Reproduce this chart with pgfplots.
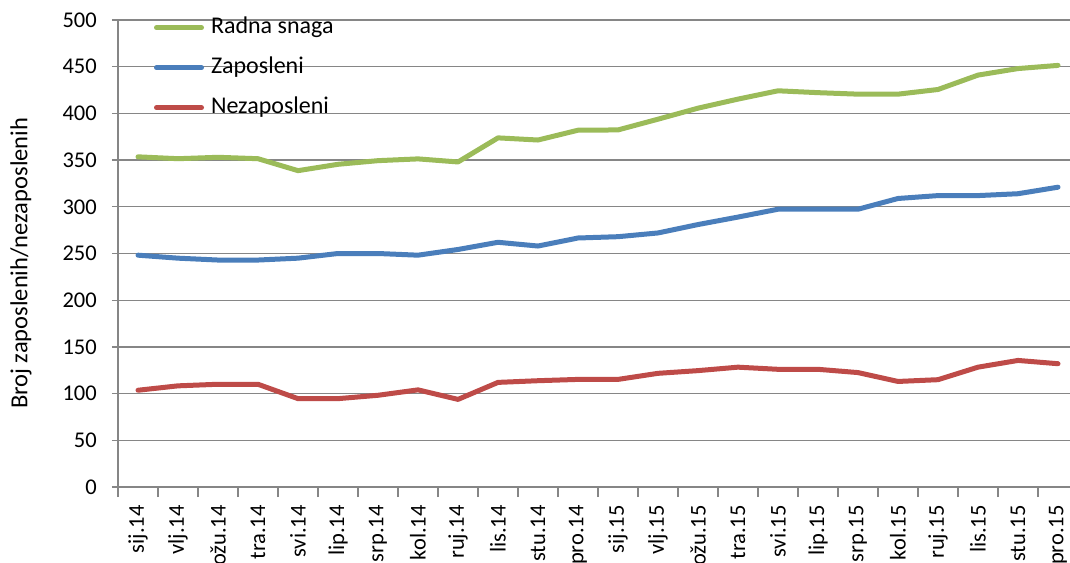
\documentclass[border=0pt]{standalone}
\usepackage{pgfplots}
\pgfplotsset{compat=1.18}
\usepackage{fontspec}
\setmainfont{Carlito}
\definecolor{cgreen}{RGB}{155,187,89}
\definecolor{cblue}{RGB}{74,126,187}
\definecolor{cred}{RGB}{190,75,72}
\definecolor{cgrid}{RGB}{134,134,134}
\begin{document}
\begin{tikzpicture}
\begin{axis}[
  scale only axis,
  width=960pt, height=467pt,
  xmin=-0.5, xmax=23.5,
  ymin=0, ymax=500,
  ytick={0,50,...,500},
  xtick={0,...,23},
  xticklabels={sij.14,vlj.14,ožu.14,tra.14,svi.14,lip.14,srp.14,kol.14,ruj.14,lis.14,stu.14,pro.14,sij.15,vlj.15,ožu.15,tra.15,svi.15,lip.15,srp.15,kol.15,ruj.15,lis.15,stu.15,pro.15},
  minor xtick={-0.5,0.5,...,23.5},
  axis lines*=left,
  axis line style={draw=cgrid, line width=1.3pt},
  ymajorgrids,
  grid style={draw=cgrid, line width=1.3pt},
  tick align=outside,
  major tick length=6pt,
  minor tick length=10pt,
  tick style={draw=cgrid, line width=1.3pt},
  major x tick style={draw=none},
  /pgf/number format/assume math mode=true,
  yticklabel style={font=\fontsize{22.5}{26}\selectfont, inner sep=0pt, xshift=-15pt},
  xticklabel style={font=\fontsize{22.5}{26}\selectfont, inner sep=0pt, yshift=-12pt, rotate=90, anchor=east},
  ylabel={Broj zaposlenih/nezaposlenih},
  ylabel style={font=\fontsize{24.5}{28}\selectfont, at={(axis description cs:-0.101,0.479)}, anchor=center},
  legend style={draw=none, fill=none, inner sep=0pt, outer sep=0pt,
    at={(axis description cs:0.0375,1.008)}, anchor=north west,
    font=\fontsize{24}{28}\selectfont, row sep=17pt,
    nodes={inner sep=0pt, text height=17pt, text depth=6pt},
    /tikz/every odd column/.append style={column sep=7pt}},
  legend cell align=left,
  legend image code/.code={\draw[#1, line width=5pt, line cap=round] (0pt,0pt) -- (45pt,0pt);},
  every axis plot/.append style={line width=5pt, line join=round, line cap=round, mark=none},
]
\addplot[cgreen] coordinates {
(0,353.5) (1,351.5) (2,353) (3,351.5) (4,338.7) (5,345.5) (6,349.4) (7,351.3) (8,348)
(9,373.8) (10,371.5) (11,382) (12,382.3) (13,393.8) (14,405.6) (15,415.3) (16,424.2)
(17,422.2) (18,420.6) (19,420.6) (20,425.6) (21,441) (22,448) (23,451.4)};
\addlegendentry{Radna snaga}
\addplot[cblue] coordinates {
(0,248.2) (1,245) (2,243) (3,243) (4,245) (5,250) (6,250) (7,248.2) (8,254.3)
(9,262) (10,258) (11,266.6) (12,268) (13,272) (14,281) (15,289) (16,297.4)
(17,297.4) (18,297.4) (19,308.9) (20,312) (21,312) (22,314) (23,321)};
\addlegendentry{Zaposleni}
\addplot[cred] coordinates {
(0,103.6) (1,108.3) (2,110) (3,110) (4,94.6) (5,94.6) (6,98.2) (7,104) (8,93.8)
(9,112) (10,113.8) (11,115.2) (12,115.2) (13,121.7) (14,124.6) (15,128.3) (16,126)
(17,126) (18,122.5) (19,113) (20,114.9) (21,128.3) (22,135.5) (23,132)};
\addlegendentry{Nezaposleni}
\end{axis}
\pgfresetboundingbox
\path[use as bounding box] (-118pt,-75pt) rectangle (952pt,487pt);
\end{tikzpicture}
\end{document}
